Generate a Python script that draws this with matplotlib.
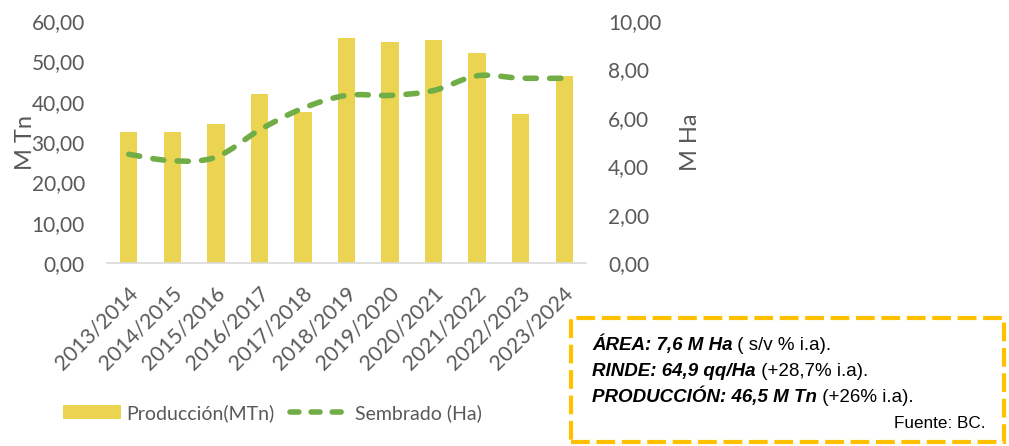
import matplotlib
matplotlib.use("Agg")
import matplotlib.pyplot as plt
from matplotlib.path import Path
from matplotlib.patches import PathPatch, Rectangle
from matplotlib.lines import Line2D
from matplotlib.transforms import ScaledTranslation
import numpy as np

campaigns = ["2013/2014", "2014/2015", "2015/2016", "2016/2017", "2017/2018",
             "2018/2019", "2019/2020", "2020/2021", "2021/2022", "2022/2023", "2023/2024"]
produccion = [32.5, 32.5, 34.5, 42.0, 37.5, 55.7, 54.7, 55.2, 52.1, 37.0, 46.5]
sembrado = [4.50, 4.23, 4.38, 5.50, 6.40, 6.93, 6.93, 7.13, 7.74, 7.64, 7.64]
left_ticks = [0, 10, 20, 30, 40, 50, 60]
right_ticks = [0, 2, 4, 6, 8, 10]

BAR_C = "#EAD452"
LINE_C = "#70AD47"
TXT_C = "#595959"
BOX_C = "#FFC000"
FONT = "Lato"

fig = plt.figure(figsize=(10.09, 4.46), dpi=100)
ax = fig.add_axes([107/1009, 1-263.3/446, (586-107)/1009, (263.3-21)/446])
ax2 = ax.twinx()

x = np.arange(len(campaigns))
ax.bar(x, produccion, width=0.4, color=BAR_C, zorder=2)
ax.set_xlim(-0.5, len(campaigns)-0.5)
ax.set_ylim(0, 60)
ax2.set_ylim(0, 10)

def fmt(v):
    return f"{v:.2f}".replace(".", ",")

ax.set_yticks(left_ticks)
ax.set_yticklabels([fmt(v) for v in left_ticks], fontsize=15, color=TXT_C, family=FONT)
ax2.set_yticks(right_ticks)
ax2.set_yticklabels([fmt(v) for v in right_ticks], fontsize=15, color=TXT_C, family=FONT)
ax.tick_params(axis="y", length=0, pad=16)
ax2.tick_params(axis="y", length=0, pad=16)
ax.set_xticks(x)
ax.set_xticklabels(campaigns, rotation=45, ha="right", va="center", rotation_mode="anchor",
                   fontsize=15.3, color=TXT_C, family=FONT)
ax.tick_params(axis="x", length=0, pad=19)
off = ScaledTranslation(6/100, 0, fig.dpi_scale_trans)
for lab in ax.get_xticklabels():
    lab.set_transform(lab.get_transform() + off)

for a in (ax, ax2):
    for s in ("top", "left", "right", "bottom"):
        a.spines[s].set_visible(False)
ax.spines["bottom"].set_visible(True)
ax.spines["bottom"].set_color("#D9D9D9")
ax.spines["bottom"].set_linewidth(1.2)

ax.set_ylabel("M Tn", fontsize=17, color=TXT_C, family=FONT, labelpad=-3)
ax2.set_ylabel("M Ha", fontsize=17, color=TXT_C, family=FONT, labelpad=13)

# smoothed line (Catmull-Rom style Bezier through the data points)
pts = np.column_stack([x, sembrado]).astype(float)
verts = [tuple(pts[0])]
codes = [Path.MOVETO]
n = len(pts)
for i in range(n-1):
    p0 = pts[i-1] if i > 0 else pts[i]
    p1 = pts[i]
    p2 = pts[i+1]
    p3 = pts[i+2] if i+2 < n else pts[i+1]
    c1 = p1 + (p2 - p0) / 6.0
    c2 = p2 - (p3 - p1) / 6.0
    verts += [tuple(c1), tuple(c2), tuple(p2)]
    codes += [Path.CURVE4]*3
path = Path(verts, codes)
patch = PathPatch(path, facecolor="none", edgecolor=LINE_C, lw=4.0,
                  linestyle=(0, (2.0, 2.4)), capstyle="round", zorder=3)
ax2.add_patch(patch)

# legend
h1 = Rectangle((0, 0), 1, 1, facecolor=BAR_C, edgecolor="none")
h2 = Line2D([], [], color=LINE_C, lw=4.0, linestyle=(0, (1.6, 2.2)), dash_capstyle="round")
leg = fig.legend([h1, h2], ["Producción(MTn)", "Sembrado (Ha)"], ncol=2, frameon=False,
                 loc="center left", bbox_to_anchor=(45/1009, 1-413/446),
                 prop={"family": FONT, "size": 14}, handlelength=3.0, handleheight=0.75,
                 columnspacing=0.8, handletextpad=0.3)
for t in leg.get_texts():
    t.set_color(TXT_C)

# annotation box
box = Rectangle((571/1009, 1-442/446), (1004-571)/1009, (442-318)/446,
                transform=fig.transFigure, facecolor="white", edgecolor=BOX_C,
                lw=3.0, linestyle=(0, (4.5, 1.6)), zorder=5)
fig.add_artist(box)

lines = [("ÁREA: 7,6 M Ha", " ( s/v % i.a)."),
         ("RINDE: 64,9 qq/Ha", " (+28,7% i.a)."),
         ("PRODUCCIÓN: 46,5 M Tn", " (+26% i.a).")]
ys = [350, 376, 402]
BFONT = "Liberation Sans"
firsts = []
for (b, r), yy in zip(lines, ys):
    t1 = fig.text(592/1009, 1-yy/446, b, fontsize=13.5, fontweight="bold", fontstyle="italic",
                  family=BFONT, color="black", va="baseline", ha="left", zorder=6)
    firsts.append((t1, r, yy))
fig.canvas.draw()
renderer = fig.canvas.get_renderer()
for t1, r, yy in firsts:
    bb = t1.get_window_extent(renderer)
    fig.text(bb.x1/fig.bbox.width, 1-yy/446, r, fontsize=13.5, family=BFONT, color="black",
             va="baseline", ha="left", zorder=6)
fig.text(985/1009, 1-423/446, "Fuente: BC.", fontsize=12.3, family=BFONT, color="black",
         ha="right", va="center", zorder=6)

fig.savefig("out.png", dpi=100)
